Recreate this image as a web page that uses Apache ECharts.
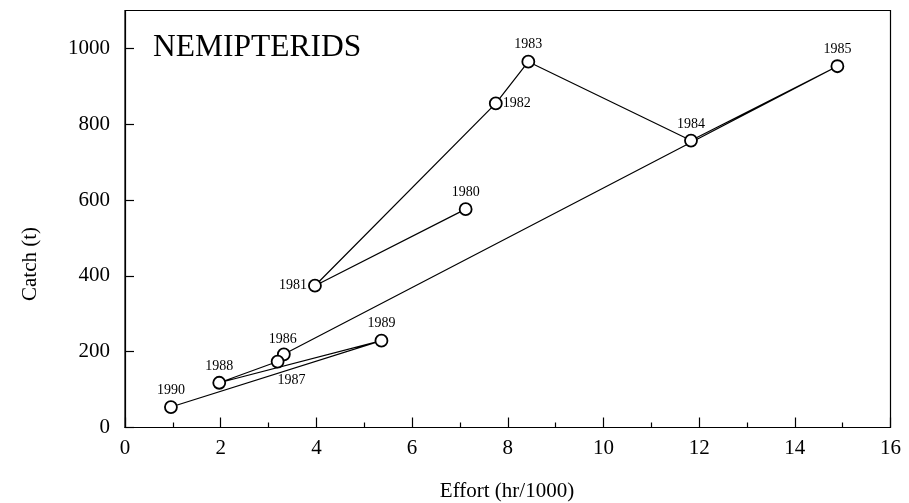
<!DOCTYPE html>
<html>
<head>
<meta charset="utf-8">
<script src="https://cdn.jsdelivr.net/npm/echarts@6/dist/echarts.min.js"></script>
<style>html,body{margin:0;padding:0;background:#fff}#c{width:909px;height:503px}</style>
</head>
<body>
<div id="c"></div>
<script>
var years = ['1980','1981','1982','1983','1984','1985','1986','1987','1988','1989','1990'];
var effort = [7.12, 3.97, 7.75, 8.43, 11.83, 14.89, 3.32, 3.19, 1.97, 5.36, 0.96];
var catchT = [576, 374, 855, 965, 757, 953, 193, 174, 118, 229, 54];
var xTicks = [0, 2, 4, 6, 8, 10, 12, 14, 16];
var yTicks = [0, 200, 400, 600, 800, 1000];

var labelPlacement = {
  '1980': {position: 'top', distance: 3},
  '1981': {position: 'left', distance: 1},
  '1982': {position: 'right', distance: 0},
  '1983': {position: 'top', distance: 3},
  '1984': {position: 'top', distance: 2},
  '1985': {position: 'top', distance: 3},
  '1986': {position: 'top', distance: 1, offset: [-1, 0]},
  '1987': {position: 'bottom', distance: 4, offset: [14, 1]},
  '1988': {position: 'top', distance: 3},
  '1989': {position: 'top', distance: 3},
  '1990': {position: 'top', distance: 3}
};

var FONT = 'Liberation Serif';
var data = years.map(function (y, i) {
  var p = labelPlacement[y];
  return {
    value: [effort[i], catchT[i]],
    name: y,
    label: {show: true, formatter: y, position: p.position, distance: p.distance, offset: p.offset || [0, 0]}
  };
});

var chart = echarts.init(document.getElementById('c'), null, {renderer: 'canvas'});
chart.setOption({
  animation: false,
  backgroundColor: '#fff',
  grid: {left: 125, top: 10.5, right: 18.5, bottom: 75.5, show: true, borderColor: '#000', borderWidth: 1.2, backgroundColor: 'transparent'},
  xAxis: {
    type: 'value', min: xTicks[0], max: xTicks[xTicks.length - 1], interval: 2,
    axisLine: {show: true, lineStyle: {color: '#000', width: 1.2}},
    axisTick: {show: true, inside: true, length: 10, lineStyle: {color: '#000', width: 1.2}},
    minorTick: {show: true, splitNumber: 2, length: 5, lineStyle: {color: '#000', width: 1.2}},
    splitLine: {show: false},
    axisLabel: {color: '#000', fontFamily: FONT, fontSize: 21, margin: 10,
      formatter: function (v) { return xTicks.indexOf(v) >= 0 ? String(v) : ''; }}
  },
  yAxis: {
    type: 'value', min: 0, max: 1100, interval: 200,
    axisLine: {show: true, lineStyle: {color: '#000', width: 1.2}},
    axisTick: {show: true, inside: true, length: 9, lineStyle: {color: '#000', width: 1.2}},
    splitLine: {show: false},
    axisLabel: {color: '#000', fontFamily: FONT, fontSize: 21, margin: 15, showMaxLabel: false,
      formatter: function (v) { return yTicks.indexOf(v) >= 0 ? String(v) : ''; }}
  },
  graphic: [
    {type: 'text', left: 153, top: 32, style: {text: 'NEMIPTERIDS', font: '31.5px "Liberation Serif"', fill: '#000'}},
    {type: 'text', x: 30, y: 264, rotation: Math.PI / 2, style: {text: 'Catch (t)', font: '21px "Liberation Serif"', fill: '#000', align: 'center', verticalAlign: 'middle'}},
    {type: 'text', x: 507, y: 491, style: {text: 'Effort (hr/1000)', font: '21px "Liberation Serif"', fill: '#000', align: 'center', verticalAlign: 'middle'}}
  ],
  series: [{
    type: 'line',
    data: data,
    symbol: 'circle',
    symbolSize: 12,
    lineStyle: {color: '#000', width: 1.2},
    itemStyle: {color: '#fff', borderColor: '#000', borderWidth: 1.8},
    label: {color: '#000', fontFamily: FONT, fontSize: 14},
    z: 3
  }]
});
</script>
</body>
</html>
